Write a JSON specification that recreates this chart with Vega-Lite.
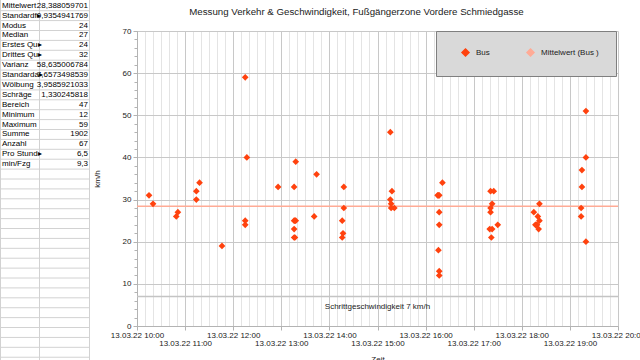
{
  "$schema": "https://vega.github.io/schema/vega-lite/v6.json",
  "background": "white",
  "autosize": {"type": "none"},
  "padding": {"left": 137, "top": 31, "right": 22, "bottom": 34},
  "width": 481,
  "height": 295,
  "config": {"font": "Liberation Sans", "view": {"stroke": null}},
  "title": {"text": "Messung Verkehr & Geschwindigkeit, Fußgängerzone Vordere Schmiedgasse", "fontSize": 9.7, "fontWeight": "normal", "color": "#222", "anchor": "middle", "frame": "group", "offset": -17, "dx": -21},
  "layer": [
    {
      "data": {"values": [
        {"row": 0, "name": "Mittelwert", "value": "28,388059701"},
        {"row": 1, "name": "Standardf▸", "value": "0,9354941769"},
        {"row": 2, "name": "Modus", "value": "24"},
        {"row": 3, "name": "Median", "value": "27"},
        {"row": 4, "name": "Erstes Qu▸", "value": "24"},
        {"row": 5, "name": "Drittes Qu▸", "value": "32"},
        {"row": 6, "name": "Varianz", "value": "58,635006784"},
        {"row": 7, "name": "Standarda▸", "value": "7,6573498539"},
        {"row": 8, "name": "Wölbung", "value": "3,9585921033"},
        {"row": 9, "name": "Schräge", "value": "1,330245818"},
        {"row": 10, "name": "Bereich", "value": "47"},
        {"row": 11, "name": "Minimum", "value": "12"},
        {"row": 12, "name": "Maximum", "value": "59"},
        {"row": 13, "name": "Summe", "value": "1902"},
        {"row": 14, "name": "Anzahl", "value": "67"},
        {"row": 15, "name": "Pro Stund▸", "value": "6,5"},
        {"row": 16, "name": "min/Fzg", "value": "9,3"},
        {"row": 17, "name": "", "value": ""},
        {"row": 18, "name": "", "value": ""},
        {"row": 19, "name": "", "value": ""},
        {"row": 20, "name": "", "value": ""},
        {"row": 21, "name": "", "value": ""},
        {"row": 22, "name": "", "value": ""},
        {"row": 23, "name": "", "value": ""},
        {"row": 24, "name": "", "value": ""},
        {"row": 25, "name": "", "value": ""},
        {"row": 26, "name": "", "value": ""},
        {"row": 27, "name": "", "value": ""},
        {"row": 28, "name": "", "value": ""},
        {"row": 29, "name": "", "value": ""},
        {"row": 30, "name": "", "value": ""},
        {"row": 31, "name": "", "value": ""},
        {"row": 32, "name": "", "value": ""},
        {"row": 33, "name": "", "value": ""},
        {"row": 34, "name": "", "value": ""},
        {"row": 35, "name": "", "value": ""}
      ]},
      "layer": [
        {
          "mark": {"type": "rule", "color": "#d2d2d2", "strokeWidth": 1, "yOffset": 4.95},
          "encoding": {
            "x": {"datum": 0, "type": "quantitative", "scale": {"domain": [0, 90], "range": [-137, -47], "nice": false, "zero": false}, "axis": null},
            "x2": {"datum": 90},
            "y": {"field": "row", "type": "quantitative", "scale": {"domain": [-0.58, 35.78], "range": [-31, 329], "nice": false, "zero": false}, "axis": null}
          }
        },
        {
          "mark": {"type": "rule", "color": "#d2d2d2", "strokeWidth": 1},
          "encoding": {
            "x": {"datum": 0.5, "type": "quantitative", "axis": null},
            "y": {"datum": -0.58, "type": "quantitative", "axis": null},
            "y2": {"datum": 35.78}
          }
        },
        {
          "mark": {"type": "rule", "color": "#d2d2d2", "strokeWidth": 1},
          "encoding": {
            "x": {"datum": 39.5, "type": "quantitative", "axis": null},
            "y": {"datum": -0.58, "type": "quantitative", "axis": null},
            "y2": {"datum": 35.78}
          }
        },
        {
          "mark": {"type": "rule", "color": "#d2d2d2", "strokeWidth": 1},
          "encoding": {
            "x": {"datum": 89.5, "type": "quantitative", "axis": null},
            "y": {"datum": -0.58, "type": "quantitative", "axis": null},
            "y2": {"datum": 35.78}
          }
        },
        {
          "mark": {"type": "text", "align": "left", "baseline": "middle", "fontSize": 8, "color": "#000"},
          "encoding": {
            "x": {"datum": 2, "type": "quantitative", "axis": null},
            "y": {"field": "row", "type": "quantitative", "axis": null},
            "text": {"field": "name"}
          }
        },
        {
          "mark": {"type": "text", "align": "right", "baseline": "middle", "fontSize": 8, "color": "#000"},
          "encoding": {
            "x": {"datum": 88, "type": "quantitative", "axis": null},
            "y": {"field": "row", "type": "quantitative", "axis": null},
            "text": {"field": "value"}
          }
        }
      ]
    },
    {
      "data": {"values": [
        {"t": "2022-03-13T10:15", "kmh": 31},
        {"t": "2022-03-13T10:20", "kmh": 29},
        {"t": "2022-03-13T10:49", "kmh": 26},
        {"t": "2022-03-13T10:51", "kmh": 27},
        {"t": "2022-03-13T11:14", "kmh": 30},
        {"t": "2022-03-13T11:14", "kmh": 32},
        {"t": "2022-03-13T11:18", "kmh": 34},
        {"t": "2022-03-13T11:46", "kmh": 19},
        {"t": "2022-03-13T12:15", "kmh": 59},
        {"t": "2022-03-13T12:17", "kmh": 40},
        {"t": "2022-03-13T12:15", "kmh": 25},
        {"t": "2022-03-13T12:15", "kmh": 24},
        {"t": "2022-03-13T12:56", "kmh": 33},
        {"t": "2022-03-13T13:16", "kmh": 33},
        {"t": "2022-03-13T13:18", "kmh": 39},
        {"t": "2022-03-13T13:16", "kmh": 25},
        {"t": "2022-03-13T13:18", "kmh": 25},
        {"t": "2022-03-13T13:17", "kmh": 25},
        {"t": "2022-03-13T13:16", "kmh": 23},
        {"t": "2022-03-13T13:16", "kmh": 21},
        {"t": "2022-03-13T13:17", "kmh": 21},
        {"t": "2022-03-13T13:41", "kmh": 26},
        {"t": "2022-03-13T13:44", "kmh": 36},
        {"t": "2022-03-13T14:18", "kmh": 33},
        {"t": "2022-03-13T14:18", "kmh": 28},
        {"t": "2022-03-13T14:16", "kmh": 25},
        {"t": "2022-03-13T14:17", "kmh": 22},
        {"t": "2022-03-13T14:16", "kmh": 21},
        {"t": "2022-03-13T15:16", "kmh": 46},
        {"t": "2022-03-13T15:18", "kmh": 32},
        {"t": "2022-03-13T15:16", "kmh": 30},
        {"t": "2022-03-13T15:17", "kmh": 29},
        {"t": "2022-03-13T15:17", "kmh": 28},
        {"t": "2022-03-13T15:21", "kmh": 28},
        {"t": "2022-03-13T16:21", "kmh": 34},
        {"t": "2022-03-13T16:15", "kmh": 31},
        {"t": "2022-03-13T16:16", "kmh": 31},
        {"t": "2022-03-13T16:17", "kmh": 31},
        {"t": "2022-03-13T16:17", "kmh": 27},
        {"t": "2022-03-13T16:17", "kmh": 24},
        {"t": "2022-03-13T16:16", "kmh": 18},
        {"t": "2022-03-13T16:17", "kmh": 13},
        {"t": "2022-03-13T16:17", "kmh": 12},
        {"t": "2022-03-13T17:21", "kmh": 32},
        {"t": "2022-03-13T17:25", "kmh": 32},
        {"t": "2022-03-13T17:23", "kmh": 29},
        {"t": "2022-03-13T17:21", "kmh": 28},
        {"t": "2022-03-13T17:21", "kmh": 27},
        {"t": "2022-03-13T17:30", "kmh": 24},
        {"t": "2022-03-13T17:20", "kmh": 23},
        {"t": "2022-03-13T17:23", "kmh": 23},
        {"t": "2022-03-13T17:22", "kmh": 21},
        {"t": "2022-03-13T18:22", "kmh": 29},
        {"t": "2022-03-13T18:15", "kmh": 27},
        {"t": "2022-03-13T18:20", "kmh": 26},
        {"t": "2022-03-13T18:22", "kmh": 25},
        {"t": "2022-03-13T18:17", "kmh": 24},
        {"t": "2022-03-13T18:19", "kmh": 24},
        {"t": "2022-03-13T18:18", "kmh": 24},
        {"t": "2022-03-13T18:21", "kmh": 23},
        {"t": "2022-03-13T19:20", "kmh": 51},
        {"t": "2022-03-13T19:20", "kmh": 40},
        {"t": "2022-03-13T19:15", "kmh": 37},
        {"t": "2022-03-13T19:15", "kmh": 33},
        {"t": "2022-03-13T19:14", "kmh": 28},
        {"t": "2022-03-13T19:14", "kmh": 26},
        {"t": "2022-03-13T19:20", "kmh": 20}
      ]},
      "layer": [
        {
          "data": {"values": [{"speed": 7, "label": "Schrittgeschwindigkeit 7 km/h"}]},
          "mark": {"type": "text", "fontSize": 8, "color": "#222", "dy": 10, "baseline": "middle"},
          "encoding": {
            "x": {"datum": {"year": 2022, "month": 3, "date": 13, "hours": 15}, "type": "temporal",
              "scale": {"domain": [{"year": 2022, "month": 3, "date": 13, "hours": 10}, {"year": 2022, "month": 3, "date": 13, "hours": 20}], "nice": false},
              "axis": {"orient": "bottom", "grid": true, "gridColor": "#e4e4e4", "labels": false, "ticks": false, "domain": false, "title": null,
                "values": [
                  {"year":2022,"month":3,"date":13,"hours":10,"minutes":10},{"year":2022,"month":3,"date":13,"hours":10,"minutes":20},{"year":2022,"month":3,"date":13,"hours":10,"minutes":30},{"year":2022,"month":3,"date":13,"hours":10,"minutes":40},{"year":2022,"month":3,"date":13,"hours":10,"minutes":50},
                  {"year":2022,"month":3,"date":13,"hours":11,"minutes":10},{"year":2022,"month":3,"date":13,"hours":11,"minutes":20},{"year":2022,"month":3,"date":13,"hours":11,"minutes":30},{"year":2022,"month":3,"date":13,"hours":11,"minutes":40},{"year":2022,"month":3,"date":13,"hours":11,"minutes":50},
                  {"year":2022,"month":3,"date":13,"hours":12,"minutes":10},{"year":2022,"month":3,"date":13,"hours":12,"minutes":20},{"year":2022,"month":3,"date":13,"hours":12,"minutes":30},{"year":2022,"month":3,"date":13,"hours":12,"minutes":40},{"year":2022,"month":3,"date":13,"hours":12,"minutes":50},
                  {"year":2022,"month":3,"date":13,"hours":13,"minutes":10},{"year":2022,"month":3,"date":13,"hours":13,"minutes":20},{"year":2022,"month":3,"date":13,"hours":13,"minutes":30},{"year":2022,"month":3,"date":13,"hours":13,"minutes":40},{"year":2022,"month":3,"date":13,"hours":13,"minutes":50},
                  {"year":2022,"month":3,"date":13,"hours":14,"minutes":10},{"year":2022,"month":3,"date":13,"hours":14,"minutes":20},{"year":2022,"month":3,"date":13,"hours":14,"minutes":30},{"year":2022,"month":3,"date":13,"hours":14,"minutes":40},{"year":2022,"month":3,"date":13,"hours":14,"minutes":50},
                  {"year":2022,"month":3,"date":13,"hours":15,"minutes":10},{"year":2022,"month":3,"date":13,"hours":15,"minutes":20},{"year":2022,"month":3,"date":13,"hours":15,"minutes":30},{"year":2022,"month":3,"date":13,"hours":15,"minutes":40},{"year":2022,"month":3,"date":13,"hours":15,"minutes":50},
                  {"year":2022,"month":3,"date":13,"hours":16,"minutes":10},{"year":2022,"month":3,"date":13,"hours":16,"minutes":20},{"year":2022,"month":3,"date":13,"hours":16,"minutes":30},{"year":2022,"month":3,"date":13,"hours":16,"minutes":40},{"year":2022,"month":3,"date":13,"hours":16,"minutes":50},
                  {"year":2022,"month":3,"date":13,"hours":17,"minutes":10},{"year":2022,"month":3,"date":13,"hours":17,"minutes":20},{"year":2022,"month":3,"date":13,"hours":17,"minutes":30},{"year":2022,"month":3,"date":13,"hours":17,"minutes":40},{"year":2022,"month":3,"date":13,"hours":17,"minutes":50},
                  {"year":2022,"month":3,"date":13,"hours":18,"minutes":10},{"year":2022,"month":3,"date":13,"hours":18,"minutes":20},{"year":2022,"month":3,"date":13,"hours":18,"minutes":30},{"year":2022,"month":3,"date":13,"hours":18,"minutes":40},{"year":2022,"month":3,"date":13,"hours":18,"minutes":50},
                  {"year":2022,"month":3,"date":13,"hours":19,"minutes":10},{"year":2022,"month":3,"date":13,"hours":19,"minutes":20},{"year":2022,"month":3,"date":13,"hours":19,"minutes":30},{"year":2022,"month":3,"date":13,"hours":19,"minutes":40},{"year":2022,"month":3,"date":13,"hours":19,"minutes":50}
                ]}},
            "y": {"field": "speed", "type": "quantitative", "axis": null},
            "text": {"field": "label"}
          }
        },
        {
          "data": {"values": [{"speed": 7, "label": "Schrittgeschwindigkeit 7 km/h"}]},
          "mark": {"type": "rule", "color": "#c4c4c4", "strokeWidth": 1.5},
          "encoding": {
            "y": {"field": "speed", "type": "quantitative",
              "axis": {"orient": "left", "values": [0,2,4,6,8,10,12,14,16,18,20,22,24,26,28,30,32,34,36,38,40,42,44,46,48,50,52,54,56,58,60,62,64,66,68,70], "labels": false, "grid": false, "domain": false, "ticks": true, "tickSize": 3, "tickColor": "#b3b3b3", "title": null}}
          }
        },
        {
          "mark": {"type": "rule", "strokeWidth": 1.5},
          "encoding": {
            "y": {"aggregate": "mean", "field": "kmh", "type": "quantitative", "axis": null},
            "color": {"datum": "Mittelwert (Bus )", "type": "nominal"}
          }
        },
        {
          "mark": {"type": "point", "shape": "diamond", "filled": true, "size": 45, "opacity": 1},
          "encoding": {
            "x": {"field": "t", "type": "temporal",
              "scale": {"domain": [{"year": 2022, "month": 3, "date": 13, "hours": 10}, {"year": 2022, "month": 3, "date": 13, "hours": 20}], "nice": false},
              "axis": {"orient": "bottom",
                "values": [{"year":2022,"month":3,"date":13,"hours":10},{"year":2022,"month":3,"date":13,"hours":11},{"year":2022,"month":3,"date":13,"hours":12},{"year":2022,"month":3,"date":13,"hours":13},{"year":2022,"month":3,"date":13,"hours":14},{"year":2022,"month":3,"date":13,"hours":15},{"year":2022,"month":3,"date":13,"hours":16},{"year":2022,"month":3,"date":13,"hours":17},{"year":2022,"month":3,"date":13,"hours":18},{"year":2022,"month":3,"date":13,"hours":19},{"year":2022,"month":3,"date":13,"hours":20}],
                "grid": true, "gridColor": "#c8c8c8", "domain": true, "domainColor": "#b3b3b3", "ticks": true, "tickColor": "#b3b3b3", "tickSize": 4, "labelFontSize": 8, "labelColor": "#222", "labelPadding": 1, "labelLineHeight": 8.4, "labelOverlap": false, "labelFlush": false,
                "labelExpr": "hours(datum.value) % 2 == 0 ? timeFormat(datum.value, '%d.%m.%y %H:%M') : ['', timeFormat(datum.value, '%d.%m.%y %H:%M')]",
                "title": "Zeit", "titleFontSize": 8, "titleFontWeight": "normal", "titleColor": "#222", "titlePadding": 8}},
            "y": {"field": "kmh", "type": "quantitative",
              "scale": {"domain": [0, 70], "nice": false},
              "axis": {"orient": "left", "values": [0,10,20,30,40,50,60,70], "grid": true, "gridColor": "#c8c8c8", "domain": true, "domainColor": "#b3b3b3", "ticks": true, "tickColor": "#b3b3b3", "tickSize": 4, "labelFontSize": 8, "labelColor": "#222", "labelPadding": 2, "title": "km/h", "titleFontSize": 8, "titleFontWeight": "normal", "titleColor": "#222", "titlePadding": 21}},
            "color": {"datum": "Bus", "type": "nominal",
              "scale": {"domain": ["Bus", "Mittelwert (Bus )"], "range": ["#ff420e", "#ffab96"]},
              "legend": {"orient": "none", "legendX": 299, "legendY": 0, "direction": "horizontal", "title": null,
                "fillColor": "#d9d9d9", "strokeColor": "#7f7f7f", "padding": 17,
                "symbolOffset": 8, "labelOffset": 6, "columnPadding": 28, "labelFontSize": 8, "labelColor": "#222",
                "symbolType": "diamond", "symbolSize": 49}}
          }
        }
      ],
      "resolve": {"axis": {"x": "independent", "y": "independent"}}
    }
  ],
  "resolve": {"scale": {"x": "independent", "y": "independent"}}
}
